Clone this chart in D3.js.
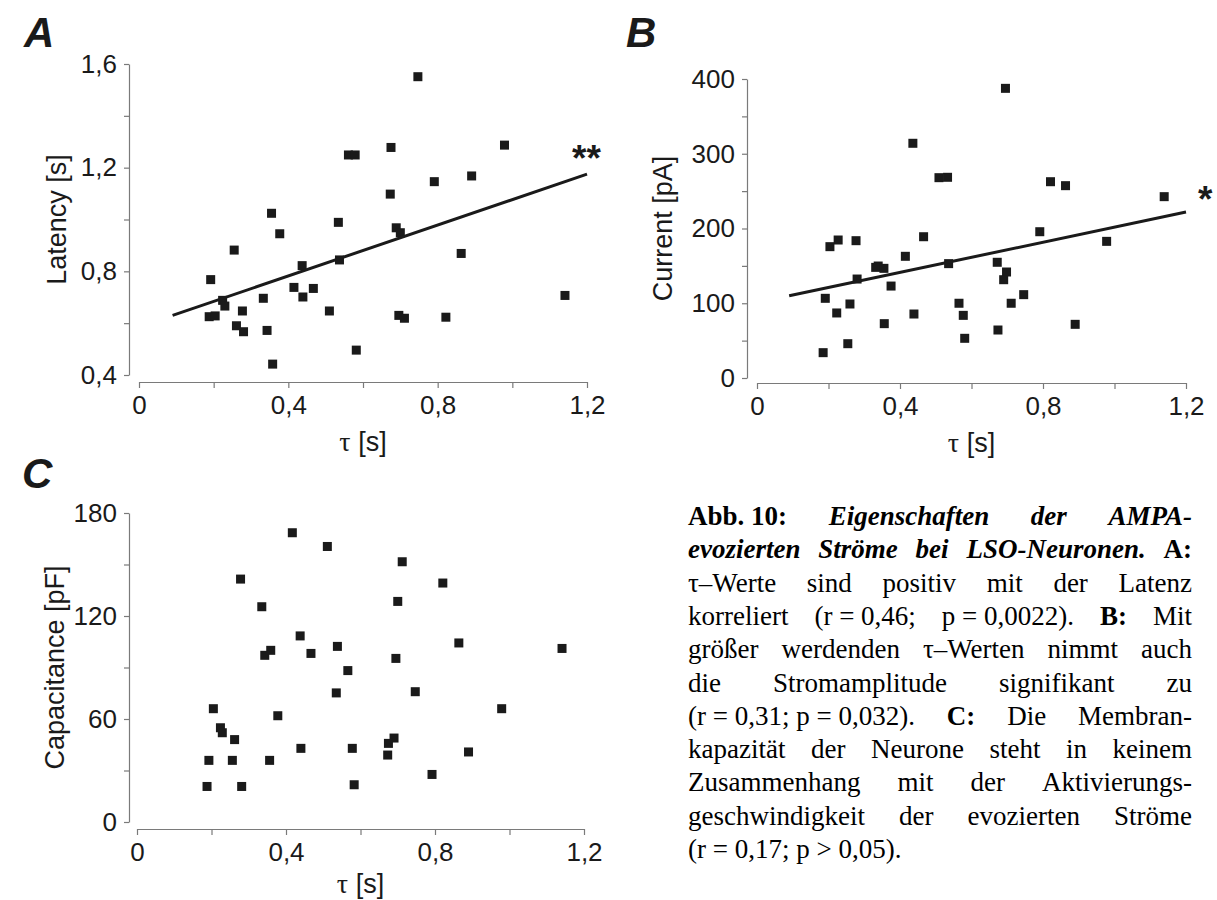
<!DOCTYPE html>
<html><head><meta charset="utf-8">
<script src="https://cdn.jsdelivr.net/npm/d3@7"></script>
<style>body{margin:0;background:#fff}</style>
</head><body>
<script>
// ---- Data ----
const tauA = [0.747,0.675,0.979,0.561,0.579,0.791,0.891,0.673,0.355,0.534,0.377,0.689,0.700,0.255,0.863,0.437,0.537,0.192,0.415,0.467,0.439,0.333,0.224,0.230,0.277,0.510,0.188,0.204,0.696,0.711,0.822,1.141,0.261,0.280,0.343,0.582,0.358];
const latency = [1.551,1.278,1.287,1.249,1.249,1.146,1.168,1.098,1.024,0.989,0.945,0.968,0.949,0.882,0.869,0.822,0.844,0.768,0.738,0.734,0.701,0.696,0.688,0.666,0.647,0.647,0.625,0.628,0.630,0.619,0.623,0.707,0.590,0.567,0.572,0.496,0.442];
const tauB = [0.695,0.436,0.509,0.533,0.821,0.863,1.139,0.791,0.978,0.466,0.227,0.277,0.204,0.415,0.536,0.672,0.698,0.339,0.332,0.355,0.690,0.280,0.375,0.746,0.191,0.260,0.565,0.711,0.223,0.439,0.577,0.356,0.890,0.674,0.581,0.254,0.185];
const current = [387.5,314,268,268.5,262.6,257.3,242.6,195.7,182.8,189,184.6,183.7,175.7,162.8,153,154.8,141.8,149.8,148,146.7,131.5,132.4,123,111.5,106.6,99,100,100,87,85.6,83.8,72.7,71.8,64.2,53.1,45.9,33.9];
const tauC = [0.417,0.511,0.712,0.278,0.821,0.700,0.335,0.438,0.864,1.141,0.538,0.359,0.343,0.467,0.695,0.566,0.535,0.747,0.979,0.205,0.378,0.224,0.229,0.262,0.690,0.675,0.440,0.578,0.890,0.673,0.193,0.256,0.356,0.792,0.188,0.281,0.583];
const capacitance = [168.5,160.5,151.6,141.5,139.2,128.5,125.4,108.4,104.3,101.1,102.3,100,97.1,98.2,95.3,88.2,75.2,75.9,66,66,61.9,54.9,52,48,48.9,45.8,42.9,42.9,40.8,39,35.9,35.9,35.9,27.7,20.7,20.7,21.7];
const fitAX = [0.09, 1.2], fitAY = [0.63, 1.175];
const fitBX = [0.09, 1.2], fitBY = [110, 222];
const xTickValues = [0,0.2,0.4,0.6,0.8,1.0,1.2];
const xTickLabels = ["0","","0,4","","0,8","","1,2"];
const yTickValuesA = [0.4,0.6,0.8,1.0,1.2,1.4,1.6];
const yTickLabelsA = ["0,4","","0,8","","1,2","","1,6"];
const yTickValuesB = [0,50,100,150,200,250,300,350,400];
const yTickLabelsB = ["0","","100","","200","","300","","400"];
const yTickValuesC = [0,30,60,90,120,150,180];
const yTickLabelsC = ["0","","60","","120","","180"];
const captionLines = [
  [["Abb.\u00a010:","b"],["Eigenschaften","bi"],["der","bi"],["AMPA-","bi"]],
  [["evozierten","bi"],["Ströme","bi"],["bei","bi"],["LSO-Neuronen.","bi"],["A:","b"]],
  [["τ–Werte","n"],["sind","n"],["positiv","n"],["mit","n"],["der","n"],["Latenz","n"]],
  [["korreliert","n"],["(r\u00a0=\u00a00,46;","n"],["p\u00a0=\u00a00,0022).","n"],["B:","b"],["Mit","n"]],
  [["größer","n"],["werdenden","n"],["τ–Werten","n"],["nimmt","n"],["auch","n"]],
  [["die","n"],["Stromamplitude","n"],["signifikant","n"],["zu","n"]],
  [["(r\u00a0=\u00a00,31;\u00a0p\u00a0=\u00a00,032).","n"],["C:","b"],["Die","n"],["Membran-","n"]],
  [["kapazität","n"],["der","n"],["Neurone","n"],["steht","n"],["in","n"],["keinem","n"]],
  [["Zusammenhang","n"],["mit","n"],["der","n"],["Aktivierungs-","n"]],
  [["geschwindigkeit","n"],["der","n"],["evozierten","n"],["Ströme","n"]],
  [["(r\u00a0=\u00a00,17;\u00a0p\u00a0>\u00a00,05).","n"]]
];

// ---- Drawing ----
const INK = "#1a1a1a", AXIS = "#7a7a7a", SANS = "'Liberation Sans', Arial, sans-serif";
const svg = d3.select("body").append("svg").attr("width",1217).attr("height",900);

function drawPanel(o) {
  const x = d3.scaleLinear().domain([0,1.2]).range([o.x0,o.x1]);
  const y = d3.scaleLinear().domain(o.yDomain).range([o.yBottom,o.yTop]);
  const gx = svg.append("g").attr("transform",`translate(0,${o.xAxisY})`)
    .call(d3.axisBottom(x).tickValues(xTickValues).tickFormat((d,i)=>xTickLabels[i])
      .tickSize(6).tickSizeOuter(0).tickPadding(8));
  const gy = svg.append("g").attr("transform",`translate(${o.yAxisX},0)`)
    .call(d3.axisLeft(y).tickValues(o.yTicks).tickFormat((d,i)=>o.yLabels[i])
      .tickSize(5).tickSizeOuter(0).tickPadding(7));
  [gx,gy].forEach(g=>{
    g.attr("font-size",null).attr("font-family",null);
    g.selectAll("path,line").attr("stroke",AXIS).attr("stroke-width",1.2);
    g.selectAll("text").attr("fill",INK).style("font-family",SANS).style("font-size","26px");
  });
  // points
  svg.append("g").selectAll("rect").data(o.xs).join("rect")
    .attr("x",(d,i)=>x(d)-4.5).attr("y",(d,i)=>y(o.ys[i])-4.5)
    .attr("width",9).attr("height",9).attr("fill",INK);
  // fit line
  if (o.fitX) {
    svg.append("line").attr("x1",x(o.fitX[0])).attr("y1",y(o.fitY[0]))
      .attr("x2",x(o.fitX[1])).attr("y2",y(o.fitY[1]))
      .attr("stroke",INK).attr("stroke-width",3);
  }
  // x title
  const xt = svg.append("text").attr("x",(o.x0+o.x1)/2).attr("y",o.xTitleY)
    .attr("text-anchor","middle").attr("fill",INK).style("font-family",SANS).style("font-size","27px");
  xt.append("tspan").style("font-family","'Liberation Serif', serif").style("font-size","28px").text("τ");
  xt.append("tspan").text(" [s]");
  // y title
  svg.append("text").attr("transform",`translate(${o.yTitleX},${(o.yTop+o.yBottom)/2}) rotate(-90)`)
    .attr("text-anchor","middle").attr("dy","0.35em").attr("fill",INK)
    .style("font-family",SANS).style("font-size","27px").text(o.yTitle);
  // panel letter
  svg.append("text").attr("x",o.letterX).attr("y",o.letterY).attr("fill",INK)
    .style("font-family",SANS).style("font-size","42px").style("font-weight","bold").style("font-style","italic")
    .text(o.letter);
  if (o.star) {
    svg.append("text").attr("x",o.starX).attr("y",o.starY).attr("fill",INK)
      .style("font-family",SANS).style("font-size","37px").style("font-weight","bold").text(o.star);
  }
}

drawPanel({x0:139,x1:587,yDomain:[0.4,1.6],yBottom:375,yTop:64,xAxisY:382,yAxisX:129,
  yTicks:yTickValuesA,yLabels:yTickLabelsA,xs:tauA,ys:latency,fitX:fitAX,fitY:fitAY,
  xTitleY:451,yTitle:"Latency [s]",yTitleX:57,letter:"A",letterX:24,letterY:47,star:"**",starX:572,starY:171});
drawPanel({x0:757,x1:1186,yDomain:[0,400],yBottom:378,yTop:79,xAxisY:383,yAxisX:747,
  yTicks:yTickValuesB,yLabels:yTickLabelsB,xs:tauB,ys:current,fitX:fitBX,fitY:fitBY,
  xTitleY:452,yTitle:"Current [pA]",yTitleX:663,letter:"B",letterX:626,letterY:47,star:"*",starX:1198,starY:212});
drawPanel({x0:137,x1:584,yDomain:[0,180],yBottom:822,yTop:513,xAxisY:829,yAxisX:129,
  yTicks:yTickValuesC,yLabels:yTickLabelsC,xs:tauC,ys:capacitance,
  xTitleY:893,yTitle:"Capacitance [pF]",yTitleX:55,letter:"C",letterX:22,letterY:488});

// caption (justified)
const capLeft = 688, capRight = 1192, capTop = 525, capLH = 33.3;
const capG = svg.append("g").style("font-family","'Liberation Serif','Times New Roman',serif").style("font-size","27px").attr("fill","#000");
captionLines.forEach((line,li)=>{
  const yb = capTop + li*capLH;
  const nodes = line.map(([t,s])=>{
    const el = capG.append("text").attr("y",yb).text(t)
      .style("font-weight", s.includes("b")?"bold":"normal")
      .style("font-style", s.includes("i")?"italic":"normal");
    return el;
  });
  const widths = nodes.map(n=>n.node().getComputedTextLength());
  const total = d3.sum(widths);
  const last = li === captionLines.length-1;
  const gap = (last || nodes.length<2) ? 6.75 : (capRight-capLeft-total)/(nodes.length-1);
  let cx = capLeft;
  nodes.forEach((n,i)=>{ n.attr("x",cx); cx += widths[i] + gap; });
});
</script>
</body></html>
